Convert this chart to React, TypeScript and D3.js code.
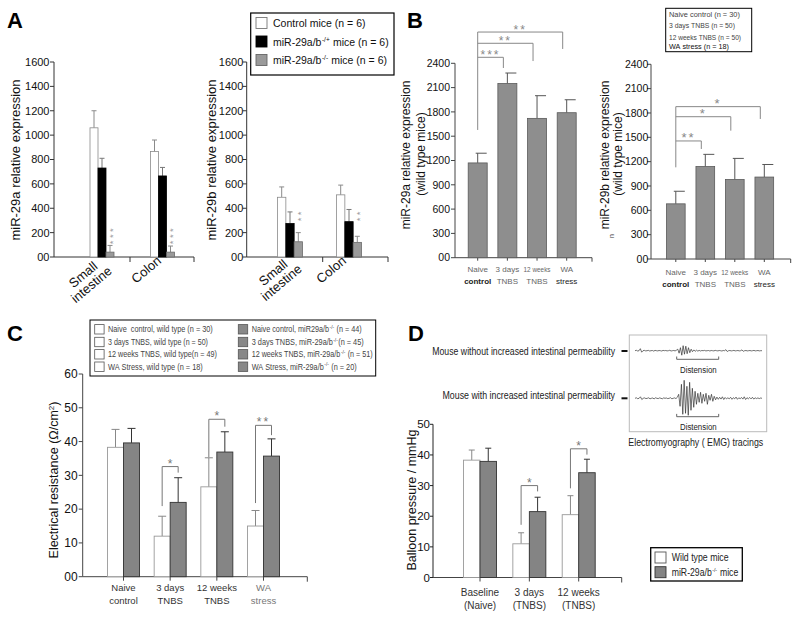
import React from "react";
import * as d3 from "d3";

const FONT = "'Liberation Sans', Arial, Helvetica, sans-serif";

// ---------- Panel A ----------
const aGroups = ["Small intestine", "Colon"];
const aGroupLines = [["Small", "intestine"], ["Colon"]];
const aTicks = [0, 200, 400, 600, 800, 1000, 1200, 1400, 1600];
const a29aControl = [1060, 865];
const a29aControlErr = [140, 95];
const a29aHet = [730, 665];
const a29aHetErr = [80, 70];
const a29aKo = [40, 40];
const a29aKoErr = [55, 50];
const a29bControl = [490, 510];
const a29bControlErr = [85, 80];
const a29bHet = [275, 290];
const a29bHetErr = [95, 100];
const a29bKo = [125, 120];
const a29bKoErr = [75, 50];
const a29aKoStars = "***";
const a29bKoStars = "**";
const aLegendMain = ["Control mice", "miR-29a/b", "miR-29a/b"];
const aLegendSup = ["", "-/+", "-/-"];
const aLegendTail = [" (n = 6)", " mice (n = 6)", " mice (n = 6)"];

// ---------- Panel B ----------
const bGroups = ["Naive control", "3 days TNBS", "12 weeks TNBS", "WA stress"];
const bGroupLines = [["Naive", "control"], ["3 days", "TNBS"], ["12 weeks", "TNBS"], ["WA", "stress"]];
const bTicks = [0, 300, 600, 900, 1200, 1500, 1800, 2100, 2400];
const b29a = [1170, 2150, 1720, 1790];
const b29aErr = [120, 130, 280, 160];
const b29b = [680, 1140, 980, 1010];
const b29bErr = [155, 150, 260, 155];
const b29aSig = [
  { target: 1, bar: 2474, drop: 2342, stars: "***" },
  { target: 2, bar: 2647, drop: 2428, stars: "**" },
  { target: 3, bar: 2786, drop: 2577, stars: "**" },
];
const b29aSigBase = 1577;
const b29bSig = [
  { target: 1, bar: 1455, drop: 1356, stars: "**" },
  { target: 2, bar: 1754, drop: 1582, stars: "*" },
  { target: 3, bar: 1878, drop: 1726, stars: "*" },
];
const b29bSigBase = 1130;
const bLegend = ["Naive control (n = 30)", "3 days TNBS (n = 50)", "12 weeks TNBS (n = 50)", "WA stress (n = 18)"];
const bLegendLen = [71, 66, 72, 60];

// ---------- Panel C ----------
const cGroups = ["Naive control", "3 days TNBS", "12 weeks TNBS", "WA stress"];
const cGroupLines = [["Naive", "control"], ["3 days", "TNBS"], ["12 weeks", "TNBS"], ["WA", "stress"]];
const cTicks = [0, 10, 20, 30, 40, 50, 60];
const cWild = [38.3, 12.0, 26.6, 15.0];
const cWildErr = [5.3, 5.9, 8.6, 4.6];
const cKo = [39.6, 22.0, 36.9, 35.7];
const cKoErr = [4.3, 7.3, 6.0, 5.1];
const cSig = [
  { group: 1, bar: 32.6, left: 20.9, right: 30.8, stars: "*" },
  { group: 2, bar: 46.6, left: 35.4, right: 44.4, stars: "*" },
  { group: 3, bar: 44.8, left: 21.8, right: 41.9, stars: "**" },
];
const cLegendWild = [
  "Naive  control, wild type (n = 30)",
  "3 days TNBS, wild type (n = 50)",
  "12 weeks TNBS, wild type(n = 49)",
  "WA Stress, wild type (n = 18)",
];
const cLegendWildLen = [105, 100, 109, 95];
const cLegendKoMain = ["Naive control, miR29a/b", "3 days TNBS, miR-29a/b", "12 weeks TNBS, miR-29a/b", "WA Stress, miR-29a/b"];
const cLegendKoTail = [" (n = 44)", "(n = 45)", " (n = 51)", " (n = 20)"];
const cLegendKoLen = [110, 112, 121, 105];

// ---------- Panel D ----------
const dGroups = ["Baseline (Naive)", "3 days (TNBS)", "12 weeks (TNBS)"];
const dGroupLines = [["Baseline", "(Naive)"], ["3 days", "(TNBS)"], ["12 weeks", "(TNBS)"]];
const dTicks = [0, 10, 20, 30, 40, 50];
const dWild = [38.3, 11.0, 20.5];
const dWildErr = [3.3, 3.6, 6.2];
const dKo = [37.9, 21.5, 34.2];
const dKoErr = [4.3, 4.7, 4.4];
const dSig = [
  { group: 1, bar: 30.0, left: 17.2, right: 28.1, stars: "*" },
  { group: 2, bar: 42.0, left: 29.1, right: 40.1, stars: "*" },
];
const dLegend = ["Wild type mice", "miR-29a/b"];

// EMG illustration traces (hand-read amplitudes)
const emgTopTrace = [
  0, 0.4, -0.3, 0, 2, -1.5, 0, 0.3, -0.2, 0, 0.3, -0.3, 0, 0.2, -0.4, 0.3, 0, -0.2, 0.2, 0, -0.3, 0.3, 0, 0.2, -0.2, 0, 0.4, -0.3, 0, 0.2, -0.2, 0.5,
  1.5, -2.5, 3, -4.5, 5, -3.5, 4.5, -3, 3, -2, 1.5, -1,
  0.8, -0.6, 0.5, -0.4, 0.3, -0.3, 0.2, 0, 0.3, -0.2, 0, 0.2, -0.3, 0.2, 0, -0.2, 0.3, 0, -0.2, 0.2, 0, -0.3, 0.2, 0, 1, -0.8, 0, 0.2, -0.2, 0, 0.3, -0.2, 0, 0.2, -0.2, 0, 0.8, -0.6, 0, 0.2, -0.2, 0, 0.2, -0.2, 0, 0.3, -0.2, 0, 0.2, -0.2, 0, 0,
];
const emgBottomTrace = [
  0, 0.5, -0.4, 0, 1.5, -1.2, 0, 0.4, -0.3, 0, 0.5, -0.5, 0, 0.3, -0.6, 0.5, 0, -0.3, 0.4, 0, -0.5, 0.4, 0, 0.3, -0.3, 0, 0.6, -0.5, 0, 0.4, -0.3, 1,
  4, -8, 14, -16, 18, -15, 12, -17, 16, -12, 10, -9, 7,
  -6, 5, -4, 6, -5, 4, -3, 5, -6, 3, -2, 4, -3, 2,
  -1.5, 1.2, -1, 1, -0.8, 1.5, -1.2, 0.8, -0.6, 0.5, -0.5, 1, -1, 0.6, -0.5, 1.2, -1, 0.5, -0.4, 0.8, -0.8, 1.5, -1.2, 0.6, -0.5, 0.8, -0.6, 1, -0.8, 0.5, -0.3, 0.4, -0.3, 0.3, 0,
];

const zeroFmt = (t: number) => (t === 0 ? "00" : String(t));
const nb = (s: string) => s.replace(/ /g, "\u00a0");

let measureCtx: any = null;
function textWidth(s: string, size: number, weight = "normal") {
  if (!measureCtx && typeof document !== "undefined") measureCtx = document.createElement("canvas").getContext("2d");
  if (!measureCtx) return s.length * size * 0.5;
  measureCtx.font = `${weight} ${size}px 'Liberation Sans', Arial, sans-serif`;
  return measureCtx.measureText(nb(s)).width;
}

// text squeezed horizontally to a given width via transform
function FitText({ x, y, width, text, fontSize, fill = "#222", anchor = "start", weight = "normal" }: any) {
  const k = width / textWidth(text, fontSize, weight);
  return (
    <text transform={`translate(${x},${y}) scale(${k},1)`} textAnchor={anchor} fontSize={fontSize} fill={fill} fontWeight={weight}>
      {nb(text)}
    </text>
  );
}

// text with superscript, squeezed as a whole to a given width
function SupText({ x, y, main, sup, tail, total, fontSize, supSize, fill }: any) {
  const wMain = textWidth(main, fontSize);
  const wSup = textWidth(sup, supSize);
  const wTail = textWidth(tail, fontSize);
  const k = total / (wMain + wSup + wTail + 1);
  return (
    <g transform={`translate(${x},${y}) scale(${k},1)`} fill={fill}>
      <text x={0} y={0} fontSize={fontSize}>{nb(main)}</text>
      <text x={wMain + 0.5} y={-fontSize * 0.38} fontSize={supSize}>{sup}</text>
      <text x={wMain + wSup + 1} y={0} fontSize={fontSize}>{nb(tail)}</text>
    </g>
  );
}

function YAxis({ y, ticks, x, labelX, fmt, fontSize, color = "#333", tickLen = 4 }: any) {
  const dom = y.domain();
  return (
    <g>
      <line x1={x} x2={x} y1={y(dom[0])} y2={y(dom[1])} stroke={color} strokeWidth={1} />
      {ticks.map((t: number) => (
        <g key={t}>
          <line x1={x - tickLen} x2={x} y1={y(t)} y2={y(t)} stroke={color} strokeWidth={1} />
          <text x={labelX} y={y(t) + fontSize * 0.36} textAnchor="end" fontSize={fontSize} fill="#111">
            {fmt(t)}
          </text>
        </g>
      ))}
    </g>
  );
}

function ErrBar({ cx, y0, y1, half, color }: any) {
  return (
    <g stroke={color} strokeWidth={1}>
      <line x1={cx} x2={cx} y1={y0} y2={y1} />
      <line x1={cx - half} x2={cx + half} y1={y1} y2={y1} />
    </g>
  );
}

function PanelA({ xs, y, bw, control, controlErr, het, hetErr, ko, koErr, stars, starCenter, axisX, axisEnd, midTick, labelEnd, yLabel, yLabelX, labelPos }: any) {
  const series = [
    { v: control, e: controlErr, fill: "#fff", stroke: "#8a8a8a", ec: "#8a8a8a" },
    { v: het, e: hetErr, fill: "#000", stroke: "#000", ec: "#777" },
    { v: ko, e: koErr, fill: "#9a9a9a", stroke: "#6a6a6a", ec: "#8a8a8a" },
  ];
  return (
    <g>
      <YAxis y={y} ticks={aTicks} x={axisX} labelX={labelEnd} fmt={zeroFmt} fontSize={11} />
      <line x1={axisX} x2={axisEnd} y1={y(0)} y2={y(0)} stroke="#333" />
      <line x1={midTick} x2={midTick} y1={y(0)} y2={y(0) + 5} stroke="#333" />
      <line x1={axisEnd} x2={axisEnd} y1={y(0)} y2={y(0) + 5} stroke="#333" />
      {aGroups.map((g, gi) => {
        const c = xs(g);
        return (
          <g key={g}>
            {series.map((s, si) => {
              const x0 = c + (si - 1.5) * bw;
              return (
                <g key={si}>
                  <ErrBar cx={x0 + bw / 2} y0={y(s.v[gi])} y1={y(s.v[gi] + s.e[gi])} half={2.5} color={s.ec} />
                  <rect x={x0} y={y(s.v[gi])} width={bw} height={y(0) - y(s.v[gi])} fill={s.fill} stroke={s.stroke} strokeWidth={0.8} />
                </g>
              );
            })}
            {/* vertically stacked asterisks */}
            <text transform={`translate(${c + bw + 5.6},${y(starCenter)}) rotate(-90)`} textAnchor="middle" fontSize={9.5} fill="#999" letterSpacing={2.4}>
              {stars}
            </text>
          </g>
        );
      })}
      {aGroups.map((g, gi) => (
        <text key={g} transform={`translate(${labelPos[gi][0]},${labelPos[gi][1]}) rotate(-40)`} textAnchor="middle" fontSize={13} fill="#111">
          {aGroupLines[gi].map((l, li) => (
            <tspan key={li} x={0} dy={li === 0 ? 0 : 13}>
              {l}
            </tspan>
          ))}
        </text>
      ))}
      <text transform={`translate(${yLabelX},160) rotate(-90)`} textAnchor="middle" fontSize={13} fill="#111">
        {yLabel}
      </text>
    </g>
  );
}

function PanelB({ xs, y, bw, vals, errs, sig, sigBase, axisX, axisEnd, labelEnd, line1, line1X, line2X, labelY, starSize }: any) {
  const c0 = xs(bGroups[0]);
  const topBar = d3.max(sig, (s: any) => s.bar) as number;
  return (
    <g>
      <YAxis y={y} ticks={bTicks} x={axisX} labelX={labelEnd} fmt={zeroFmt} fontSize={10.5} color="#444" />
      <line x1={axisX} x2={axisEnd} y1={y(0)} y2={y(0)} stroke="#444" />
      <line x1={axisEnd} x2={axisEnd} y1={y(0)} y2={y(0) + 4} stroke="#444" />
      {bGroups.map((g, gi) => {
        const c = xs(g);
        return (
          <g key={g}>
            <line x1={c} x2={c} y1={y(0)} y2={y(0) + 3} stroke="#444" />
            <g stroke="#555" strokeWidth={1}>
              <line x1={c} x2={c} y1={y(vals[gi])} y2={y(vals[gi] + errs[gi])} />
              <line x1={c - 2} x2={c + 9} y1={y(vals[gi] + errs[gi])} y2={y(vals[gi] + errs[gi])} />
            </g>
            <rect x={c - bw / 2} y={y(vals[gi])} width={bw} height={y(0) - y(vals[gi])} fill="#8e8e8e" stroke="#5a5a5a" strokeWidth={0.8} />
            {bGroupLines[gi].map((l, li) =>
              l.length > 7 ? (
                <FitText key={li} x={c} y={labelY + li * 12} width={27} text={l} fontSize={8} fill="#666" anchor="middle" />
              ) : (
                <text key={li} x={c} y={labelY + li * 12} textAnchor="middle" fontSize={8} fill={li === 1 && (gi === 0 || gi === 3) ? "#222" : "#666"} fontWeight={li === 1 && gi === 0 ? "bold" : "normal"}>
                  {l}
                </text>
              )
            )}
          </g>
        );
      })}
      <g stroke="#888" strokeWidth={1} fill="none">
        <line x1={c0} x2={c0} y1={y(sigBase)} y2={y(topBar)} />
        {sig.map((s: any, k: number) => {
          const xt = xs(bGroups[s.target]) - 4;
          return <polyline key={k} points={`${c0},${y(s.bar)} ${xt},${y(s.bar)} ${xt},${y(s.drop)}`} />;
        })}
      </g>
      {sig.map((s: any, k: number) => {
        const xt = xs(bGroups[s.target]) - 4;
        return (
          <text key={k} x={(c0 + xt) / 2} y={y(s.bar) + 1.5} textAnchor="middle" fontSize={starSize} fill="#888" letterSpacing={2}>
            {s.stars}
          </text>
        );
      })}
      <text transform={`translate(${line1X},155) rotate(-90)`} textAnchor="middle" fontSize={12} fill="#111">
        {line1}
      </text>
      <text transform={`translate(${line2X},154) rotate(-90)`} textAnchor="middle" fontSize={12} fill="#111">
        (wild type mice)
      </text>
    </g>
  );
}

function PairedBars({ groups, lines, xs, y, bw, wild, wildErr, ko, koErr, sig, axisX, axisEnd, capHalf, labelY, labelSize, labelColor, koFill }: any) {
  return (
    <g>
      <line x1={axisX} x2={axisEnd} y1={y(0)} y2={y(0)} stroke="#444" />
      <line x1={axisEnd} x2={axisEnd} y1={y(0)} y2={y(0) + 5} stroke="#444" />
      {groups.map((g: string, gi: number) => {
        const c = xs(g);
        const wx = c - bw;
        return (
          <g key={g}>
            <line x1={c} x2={c} y1={y(0)} y2={y(0) + 4} stroke="#444" />
            <ErrBar cx={wx + bw / 2} y0={y(wild[gi])} y1={y(wild[gi] + wildErr[gi])} half={capHalf} color="#888" />
            <ErrBar cx={c + bw / 2} y0={y(ko[gi])} y1={y(ko[gi] + koErr[gi])} half={capHalf} color="#333" />
            <rect x={wx} y={y(wild[gi])} width={bw} height={y(0) - y(wild[gi])} fill="#fff" stroke="#999" strokeWidth={0.9} />
            <rect x={c} y={y(ko[gi])} width={bw} height={y(0) - y(ko[gi])} fill={koFill} stroke="#333" strokeWidth={0.9} />
            {lines[gi].map((l: string, li: number) => (
              <text key={li} x={c} y={labelY + li * 13} textAnchor="middle" fontSize={labelSize} fill={labelColor[gi]}>
                {l}
              </text>
            ))}
          </g>
        );
      })}
      {sig.map((s: any, k: number) => {
        const c = xs(groups[s.group]);
        const xl = c - bw / 2;
        const xr = c + bw / 2;
        return (
          <g key={k}>
            <polyline points={`${xl},${y(s.left)} ${xl},${y(s.bar)} ${xr},${y(s.bar)} ${xr},${y(s.right)}`} fill="none" stroke="#777" strokeWidth={1} />
            <text x={c} y={y(s.bar) + 1} textAnchor="middle" fontSize={12} fill="#777" letterSpacing={s.stars.length > 1 ? 2 : 0}>
              {s.stars}
            </text>
          </g>
        );
      })}
    </g>
  );
}

export default function App() {
  // Panel A scales
  const aY = d3.scaleLinear().domain([0, 1600]).range([257, 62]);
  const aXL = d3.scalePoint<string>().domain(aGroups).range([102, 162.5]);
  const aXR = d3.scalePoint<string>().domain(aGroups).range([290, 349]);
  // Panel B scales
  const bYL = d3.scaleLinear().domain([0, 2400]).range([257.7, 63.3]);
  const bXL = d3.scalePoint<string>().domain(bGroups).range([477.7, 566.7]);
  const bYR = d3.scaleLinear().domain([0, 2400]).range([259, 64.3]);
  const bXR = d3.scalePoint<string>().domain(bGroups).range([675.8, 764.3]);
  // Panel C scales
  const cY = d3.scaleLinear().domain([0, 60]).range([576.7, 374]);
  const cX = d3.scalePoint<string>().domain(cGroups).range([123.5, 263.5]);
  // Panel D scales
  const dY = d3.scaleLinear().domain([0, 50]).range([577.5, 424.3]);
  const dX = d3.scalePoint<string>().domain(dGroups).range([480, 578.7]);
  // EMG scales
  const emgX = d3.scaleLinear().domain([0, emgTopTrace.length - 1]).range([635, 762]);
  const emgXB = d3.scaleLinear().domain([0, emgBottomTrace.length - 1]).range([635, 762]);
  const topLine = d3.line<number>().x((_, i) => emgX(i)).y((v) => 350.7 - v)(emgTopTrace) || "";
  const botLine = d3.line<number>().x((_, i) => emgXB(i)).y((v) => 398.3 - v)(emgBottomTrace) || "";

  return (
    <svg width={800} height={619} style={{ position: "absolute", left: 0, top: 0, background: "#fff" }} fontFamily={FONT}>
      <rect x={0} y={0} width={800} height={619} fill="#fff" />
      {/* Panel letters */}
      <text x={7} y={28} fontSize={22} fontWeight="bold">A</text>
      <text x={407} y={28} fontSize={22} fontWeight="bold">B</text>
      <text x={7} y={341} fontSize={22} fontWeight="bold">C</text>
      <text x={408} y={341} fontSize={22} fontWeight="bold">D</text>

      {/* Panel A */}
      <PanelA xs={aXL} y={aY} bw={8} control={a29aControl} controlErr={a29aControlErr} het={a29aHet} hetErr={a29aHetErr} ko={a29aKo} koErr={a29aKoErr}
        stars={a29aKoStars} starCenter={180} axisX={54} axisEnd={194} midTick={130} labelEnd={49.5} yLabel="miR-29a relative expression" yLabelX={20}
        labelPos={[[86, 278], [149, 273]]} />
      <PanelA xs={aXR} y={aY} bw={8.3} control={a29bControl} controlErr={a29bControlErr} het={a29bHet} hetErr={a29bHetErr} ko={a29bKo} koErr={a29bKoErr}
        stars={a29bKoStars} starCenter={343} axisX={246.7} axisEnd={388} midTick={322.7} labelEnd={243.3} yLabel="miR-29b relative expression" yLabelX={216}
        labelPos={[[276, 276], [334, 273]]} />
      {/* Legend A */}
      <rect x={250.7} y={13} width={143.3} height={62} fill="#fff" stroke="#000" strokeWidth={1.2} />
      {aLegendMain.map((m, i) => {
        const cy = 23 + i * 18.5;
        const fills = ["#fff", "#000", "#9a9a9a"];
        const strokes = ["#777", "#000", "#666"];
        const wMain = textWidth(m, 10.5);
        const wSup = aLegendSup[i] ? textWidth(aLegendSup[i], 6.5) + 0.8 : 0;
        return (
          <g key={i} fill="#111">
            <rect x={256} y={cy - 5.5} width={11} height={11} fill={fills[i]} stroke={strokes[i]} strokeWidth={0.9} />
            <text x={273} y={cy + 4} fontSize={10.5}>{nb(m)}</text>
            {aLegendSup[i] && <text x={273 + wMain + 0.5} y={cy} fontSize={6.5}>{aLegendSup[i]}</text>}
            <text x={273 + wMain + wSup} y={cy + 4} fontSize={10.5}>{nb(aLegendTail[i])}</text>
          </g>
        );
      })}

      {/* Panel B */}
      <PanelB xs={bXL} y={bYL} bw={19} vals={b29a} errs={b29aErr} sig={b29aSig} sigBase={b29aSigBase} axisX={455} axisEnd={592} labelEnd={450}
        line1="miR-29a relative expression" line1X={409.5} line2X={425} labelY={272} starSize={12} />
      <PanelB xs={bXR} y={bYR} bw={18.7} vals={b29b} errs={b29bErr} sig={b29bSig} sigBase={b29bSigBase} axisX={651} axisEnd={790.7} labelEnd={648.3}
        line1="miR-29b relative expression" line1X={608.5} line2X={621.5} labelY={275} starSize={13} />
      <text transform="translate(614,236) rotate(-90)" fontSize={7} fill="#333" textAnchor="middle">n</text>
      {/* Legend B */}
      <rect x={665.7} y={8.3} width={86} height={43.4} fill="#fff" stroke="#000" strokeWidth={1} />
      {bLegend.map((l, i) => (
        <FitText key={i} x={669} y={[16.8, 28.4, 40, 49.4][i]} width={bLegendLen[i]} text={l} fontSize={7.8} fill={i === 3 ? "#111" : "#444"} />
      ))}

      {/* Panel C */}
      <YAxis y={cY} ticks={cTicks} x={82.7} labelX={77.7} fmt={zeroFmt} fontSize={12} color="#444" />
      <PairedBars groups={cGroups} lines={cGroupLines} xs={cX} y={cY} bw={16} wild={cWild} wildErr={cWildErr} ko={cKo} koErr={cKoErr} sig={cSig}
        axisX={82.7} axisEnd={307.3} capHalf={4} labelY={590.5} labelSize={9.5} labelColor={["#333", "#333", "#333", "#777"]} koFill="#858585" />
      <text transform="translate(58,480) rotate(-90)" textAnchor="middle" fontSize={12.5} fill="#111">
        Electrical resistance  (Ω/cm
        <tspan dy={-4} fontSize={8}>2</tspan>
        <tspan dy={4}>)</tspan>
      </text>
      {/* Legend C */}
      <rect x={90} y={320} width={285.7} height={56} fill="#fff" stroke="#000" strokeWidth={1} />
      {cLegendWild.map((l, i) => {
        const cy = [329.3, 342, 354.3, 366.7][i];
        return (
          <g key={"w" + i}>
            <rect x={94.7} y={cy - 4.7} width={9.4} height={9.4} fill="#fff" stroke="#555" strokeWidth={0.8} />
            <FitText x={108} y={cy + 3} width={cLegendWildLen[i]} text={l} fontSize={8.5} fill="#444" />
          </g>
        );
      })}
      {cLegendKoMain.map((l, i) => {
        const cy = [329.3, 342, 354.3, 366.7][i];
        return (
          <g key={"k" + i}>
            <rect x={238.3} y={cy - 4.7} width={9.4} height={9.4} fill="#888" stroke="#555" strokeWidth={0.8} />
            <SupText x={251.7} y={cy + 3} main={l} sup="-/-" tail={cLegendKoTail[i]} total={cLegendKoLen[i]} fontSize={8.5} supSize={5.5} fill="#444" />
          </g>
        );
      })}

      {/* Panel D */}
      <YAxis y={dY} ticks={dTicks} x={433} labelX={430} fmt={(t: number) => String(t)} fontSize={11.5} color="#222" tickLen={3} />
      <PairedBars groups={dGroups} lines={dGroupLines} xs={dX} y={dY} bw={16.5} wild={dWild} wildErr={dWildErr} ko={dKo} koErr={dKoErr} sig={dSig}
        axisX={433} axisEnd={621.7} capHalf={3} labelY={595.5} labelSize={10} labelColor={["#333", "#333", "#333"]} koFill="#848484" />
      <text transform="translate(416,500) rotate(-90)" textAnchor="middle" fontSize={12.5} fill="#111">
        Balloon pressure / mmHg
      </text>
      {/* Legend D */}
      <rect x={650.7} y={547.7} width={91.6} height={33.3} fill="#fff" stroke="#000" strokeWidth={1.3} />
      <rect x={655} y={552} width={11} height={11} fill="#fff" stroke="#555" strokeWidth={0.9} />
      <rect x={655} y={566.7} width={11} height={11} fill="#848484" stroke="#333" strokeWidth={0.9} />
      <FitText x={671.7} y={561.2} width={57} text={dLegend[0]} fontSize={10} fill="#222" />
      <SupText x={671.7} y={576} main={dLegend[1]} sup="-/-" tail=" mice" total={66.6} fontSize={10} supSize={6} fill="#222" />

      {/* EMG illustration */}
      <rect x={629.3} y={335} width={137.4} height={96.7} fill="#fff" stroke="#bbb" strokeWidth={1} />
      <FitText x={615} y={355} width={183} text="Mouse without increased intestinal permeability" fontSize={10} fill="#222" anchor="end" />
      <FitText x={615} y={399} width={172.7} text="Mouse with increased intestinal permeability" fontSize={10} fill="#222" anchor="end" />
      <line x1={621.5} x2={627.5} y1={351} y2={351} stroke="#111" strokeWidth={2} />
      <line x1={621.5} x2={627.5} y1={398.3} y2={398.3} stroke="#111" strokeWidth={2} />
      <path d={topLine} fill="none" stroke="#333" strokeWidth={0.7} />
      <path d={botLine} fill="none" stroke="#333" strokeWidth={0.7} />
      <polyline points="676.7,356.5 676.7,359.3 718.7,359.3 718.7,356.5" fill="none" stroke="#555" strokeWidth={0.9} />
      <polyline points="676.7,413.9 676.7,416.7 718.7,416.7 718.7,413.9" fill="none" stroke="#555" strokeWidth={0.9} />
      <FitText x={698.3} y={373} width={36.7} text="Distension" fontSize={9.5} fill="#222" anchor="middle" />
      <FitText x={698.3} y={429.8} width={36.7} text="Distension" fontSize={9.5} fill="#222" anchor="middle" />
      <FitText x={695.8} y={445.7} width={135} text="Electromyography ( EMG) tracings" fontSize={11} fill="#222" anchor="middle" />
    </svg>
  );
}
